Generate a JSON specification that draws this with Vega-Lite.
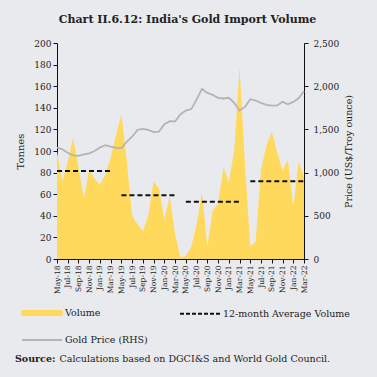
{
  "$schema": "https://vega.github.io/schema/vega-lite/v6.json",
  "width": 247,
  "height": 216,
  "autosize": {"type": "none"},
  "padding": {"left": 57, "top": 43, "right": 73, "bottom": 118},
  "background": "#E9EAEE",
  "config": {
    "font": "DejaVu Serif",
    "view": {"stroke": null},
    "axis": {"domainColor": "#111111", "tickColor": "#111111", "labelColor": "#222222", "titleColor": "#222222", "grid": false, "labelFont": "DejaVu Serif", "titleFont": "DejaVu Serif", "titleFontWeight": "normal", "labelOverlap": false},
    "legend": {"labelFont": "DejaVu Serif", "titleFont": "DejaVu Serif"}
  },
  "title": {"text": "Chart II.6.12: India's Gold Import Volume", "fontSize": 11, "fontWeight": "bold", "color": "#222222", "anchor": "middle", "dx": 7, "offset": 14},
  "data": {"values": [
    {"month": "May-18", "vol": 100, "price": 1290, "avg": 81.5, "period": "P1"},
    {"month": "Jun-18", "vol": 72, "price": 1270, "avg": 81.5, "period": "P1"},
    {"month": "Jul-18", "vol": 90, "price": 1230, "avg": 81.5, "period": "P1"},
    {"month": "Aug-18", "vol": 112, "price": 1200, "avg": 81.5, "period": "P1"},
    {"month": "Sep-18", "vol": 85, "price": 1195, "avg": 81.5, "period": "P1"},
    {"month": "Oct-18", "vol": 56, "price": 1212, "avg": 81.5, "period": "P1"},
    {"month": "Nov-18", "vol": 83, "price": 1222, "avg": 81.5, "period": "P1"},
    {"month": "Dec-18", "vol": 74, "price": 1250, "avg": 81.5, "period": "P1"},
    {"month": "Jan-19", "vol": 69, "price": 1290, "avg": 81.5, "period": "P1"},
    {"month": "Feb-19", "vol": 78, "price": 1318, "avg": 81.5, "period": "P1"},
    {"month": "Mar-19", "vol": 94, "price": 1300, "avg": 81.5, "period": "P1"},
    {"month": "Apr-19", "vol": 115, "price": 1285, "avg": null, "period": null},
    {"month": "May-19", "vol": 134, "price": 1283, "avg": 59, "period": "P2"},
    {"month": "Jun-19", "vol": 90, "price": 1358, "avg": 59, "period": "P2"},
    {"month": "Jul-19", "vol": 40, "price": 1415, "avg": 59, "period": "P2"},
    {"month": "Aug-19", "vol": 32, "price": 1495, "avg": 59, "period": "P2"},
    {"month": "Sep-19", "vol": 26, "price": 1505, "avg": 59, "period": "P2"},
    {"month": "Oct-19", "vol": 40, "price": 1495, "avg": 59, "period": "P2"},
    {"month": "Nov-19", "vol": 72, "price": 1470, "avg": 59, "period": "P2"},
    {"month": "Dec-19", "vol": 65, "price": 1475, "avg": 59, "period": "P2"},
    {"month": "Jan-20", "vol": 36, "price": 1560, "avg": 59, "period": "P2"},
    {"month": "Feb-20", "vol": 58, "price": 1595, "avg": 59, "period": "P2"},
    {"month": "Mar-20", "vol": 23, "price": 1592, "avg": 59, "period": "P2"},
    {"month": "Apr-20", "vol": 1.5, "price": 1675, "avg": null, "period": null},
    {"month": "May-20", "vol": 3, "price": 1718, "avg": 53, "period": "P3"},
    {"month": "Jun-20", "vol": 11, "price": 1735, "avg": 53, "period": "P3"},
    {"month": "Jul-20", "vol": 32, "price": 1845, "avg": 53, "period": "P3"},
    {"month": "Aug-20", "vol": 62, "price": 1968, "avg": 53, "period": "P3"},
    {"month": "Sep-20", "vol": 11, "price": 1922, "avg": 53, "period": "P3"},
    {"month": "Oct-20", "vol": 45, "price": 1900, "avg": 53, "period": "P3"},
    {"month": "Nov-20", "vol": 51, "price": 1866, "avg": 53, "period": "P3"},
    {"month": "Dec-20", "vol": 85, "price": 1858, "avg": 53, "period": "P3"},
    {"month": "Jan-21", "vol": 71, "price": 1866, "avg": 53, "period": "P3"},
    {"month": "Feb-21", "vol": 100, "price": 1808, "avg": 53, "period": "P3"},
    {"month": "Mar-21", "vol": 178, "price": 1718, "avg": 53, "period": "P3"},
    {"month": "Apr-21", "vol": 88, "price": 1760, "avg": null, "period": null},
    {"month": "May-21", "vol": 12, "price": 1850, "avg": 72, "period": "P4"},
    {"month": "Jun-21", "vol": 16, "price": 1834, "avg": 72, "period": "P4"},
    {"month": "Jul-21", "vol": 83, "price": 1807, "avg": 72, "period": "P4"},
    {"month": "Aug-21", "vol": 105, "price": 1785, "avg": 72, "period": "P4"},
    {"month": "Sep-21", "vol": 118, "price": 1775, "avg": 72, "period": "P4"},
    {"month": "Oct-21", "vol": 99, "price": 1778, "avg": 72, "period": "P4"},
    {"month": "Nov-21", "vol": 82, "price": 1820, "avg": 72, "period": "P4"},
    {"month": "Dec-21", "vol": 92, "price": 1790, "avg": 72, "period": "P4"},
    {"month": "Jan-22", "vol": 48, "price": 1818, "avg": 72, "period": "P4"},
    {"month": "Feb-22", "vol": 90, "price": 1860, "avg": 72, "period": "P4"},
    {"month": "Mar-22", "vol": 76, "price": 1945, "avg": 72, "period": "P4"}
  ]},
  "encoding": {
    "x": {"field": "month", "type": "ordinal", "sort": null,
      "scale": {"type": "point", "padding": 0},
      "axis": {"title": null, "values": ["May-18","Jul-18","Sep-18","Nov-18","Jan-19","Mar-19","May-19","Jul-19","Sep-19","Nov-19","Jan-20","Mar-20","May-20","Jul-20","Sep-20","Nov-20","Jan-21","Mar-21","May-21","Jul-21","Sep-21","Nov-21","Jan-22","Mar-22"],
        "labelAngle": -90, "labelAlign": "right", "labelBaseline": "middle", "labelFontSize": 7.5, "labelPadding": 2, "tickSize": 4, "domainWidth": 1}}
  },
  "layer": [
    {
      "layer": [
        {
          "mark": {"type": "area", "interpolate": "linear"},
          "encoding": {
            "y": {"field": "vol", "type": "quantitative", "scale": {"domain": [0, 200]},
              "axis": {"title": "Tonnes", "values": [0,20,40,60,80,100,120,140,160,180,200], "labelFontSize": 9, "titleFontSize": 10, "tickSize": 4, "labelPadding": 2, "titlePadding": 8, "domainWidth": 1}},
            "color": {"datum": "Volume", "scale": {"domain": ["Volume", "Gold Price (RHS)", "12-month Average Volume"], "range": ["#FFD95C", "#B4B4B4", "#111111"]},
              "legend": {"title": null, "orient": "none", "legendX": -36, "legendY": 249, "columns": 2, "columnPadding": 28, "rowPadding": -25, "symbolType": "stroke", "symbolSize": 1600, "symbolStrokeWidth": 2, "labelFontSize": 9.5, "labelColor": "#222222", "labelOffset": 2,
                "encode": {"symbols": {"update": {
                  "shape": {"signal": "datum.value === 'Volume' ? 'M-1,-0.1H1V0.1H-1Z' : 'stroke'"},
                  "fill": {"signal": "datum.value === 'Volume' ? '#FFD95C' : 'transparent'"},
                  "stroke": {"scale": "color", "field": "value"},
                  "strokeDash": {"signal": "datum.value === '12-month Average Volume' ? [4, 2] : [1, 0]"}
                }}}}}
          }
        },
        {
          "mark": {"type": "line", "strokeWidth": 2, "strokeDash": [5, 3]},
          "encoding": {
            "y": {"field": "avg", "type": "quantitative",
              "axis": {"title": "Tonnes", "values": [0,20,40,60,80,100,120,140,160,180,200], "labelFontSize": 9, "titleFontSize": 10, "tickSize": 4, "labelPadding": 2, "titlePadding": 8, "domainWidth": 1}},
            "detail": {"field": "period"},
            "color": {"datum": "12-month Average Volume"}
          }
        },
        {
          "mark": {"type": "point", "opacity": 0},
          "encoding": {
            "y": {"field": "vol", "type": "quantitative",
              "axis": {"title": "Tonnes", "values": [0,20,40,60,80,100,120,140,160,180,200], "labelFontSize": 9, "titleFontSize": 10, "tickSize": 4, "labelPadding": 2, "titlePadding": 8, "domainWidth": 1}},
            "shape": {"datum": "Calculations based on DGCI&S and World Gold Council.",
              "legend": {"title": "Source:", "titleOrient": "left", "titleFontWeight": "bold", "titleFontSize": 9.5, "titleColor": "#222222", "titlePadding": 0, "labelFontSize": 9.5, "labelColor": "#222222", "labelLimit": 500, "symbolSize": 0, "symbolOpacity": 0, "symbolStrokeWidth": 0, "labelOffset": -6, "orient": "none", "legendX": -42, "legendY": 311}}
          }
        }
      ]
    },
    {
      "mark": {"type": "line", "strokeWidth": 1.8},
      "encoding": {
        "y": {"field": "price", "type": "quantitative", "scale": {"domain": [0, 2500]},
          "axis": {"title": "Price (US$/Troy ounce)", "orient": "right", "values": [0,500,1000,1500,2000,2500], "format": ",.0f", "labelFontSize": 9, "titleFontSize": 9.5, "tickSize": 4, "labelPadding": 5, "titlePadding": 5, "titleAngle": 270, "titleBaseline": "top", "domainWidth": 1}},
        "color": {"datum": "Gold Price (RHS)"}
      }
    }
  ],
  "resolve": {"scale": {"y": "independent"}}
}
